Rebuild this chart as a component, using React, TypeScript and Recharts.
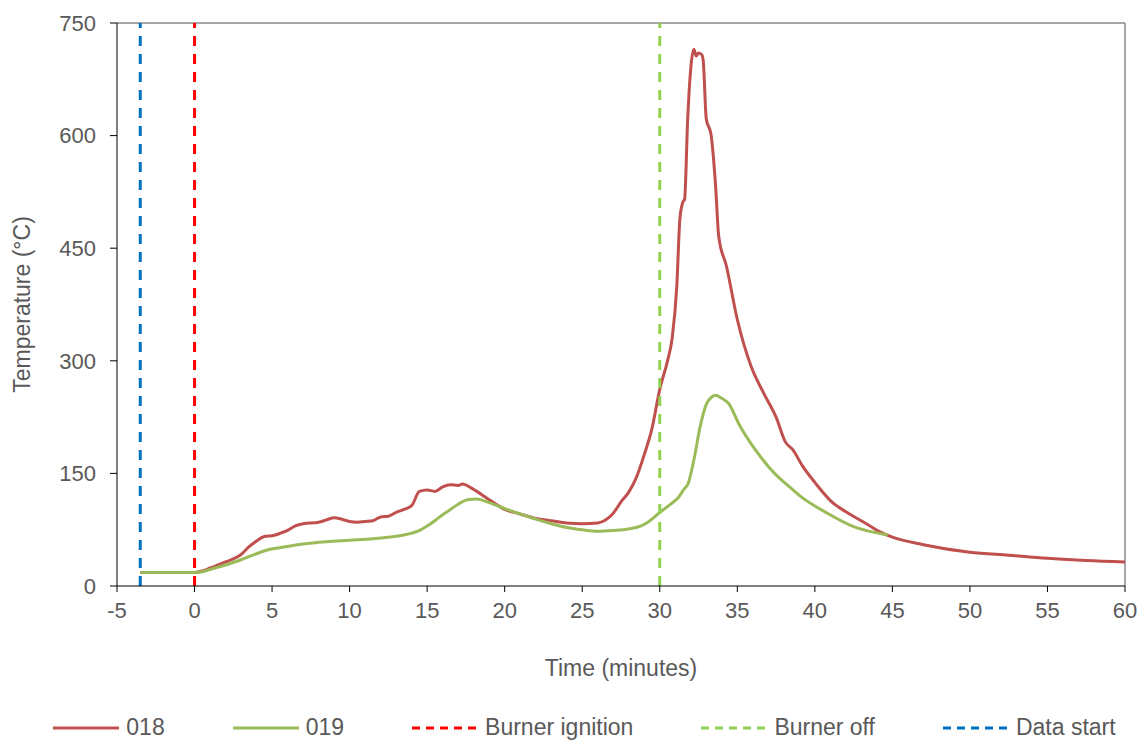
import { LineChart, Line, XAxis, YAxis, ReferenceLine, Label } from "recharts"

const FONT = '"Liberation Sans", Arial, sans-serif'
const TEXT = "#595959"

const xTicks = [-5, 0, 5, 10, 15, 20, 25, 30, 35, 40, 45, 50, 55, 60]
const yTicks = [0, 150, 300, 450, 600, 750]

// sample 018 (minutes, °C)
const t018 = [
  -3.5, 0, 0.5, 1, 2, 3, 3.5, 4, 4.5, 5, 5.5, 6, 6.5, 7, 8, 8.5, 9, 9.5, 10, 10.5, 11, 11.5, 12, 12.5, 13, 13.5, 14,
  14.5, 15, 15.5, 16, 16.5, 17, 17.3, 17.8, 18.5, 19, 20, 21, 22, 23, 24, 25, 26, 26.5, 27, 27.5, 28, 28.5, 29, 29.5,
  30, 30.5, 30.8, 31.1, 31.3, 31.5, 31.6, 31.8, 32.0, 32.2, 32.35, 32.5, 32.7, 32.8, 33.0, 33.3, 33.6, 33.8, 34.3,
  35, 35.9, 36.7, 37.5, 38.1, 38.6, 39.2, 40, 41.2, 42, 43.4, 44.2, 45, 47, 50, 52.5, 55, 57.5, 60,
]
const v018 = [
  18, 18, 20, 24, 32, 42, 52, 60, 66, 67, 70, 74, 80, 83, 85, 88, 91, 89, 86, 85, 86, 87, 92, 93, 98, 102, 107,
  126, 128, 126, 132, 135, 134, 136, 131, 122, 115, 102, 96, 90, 87, 84, 83, 84, 88, 97, 112, 125, 145, 175, 210,
  262, 300, 330, 400, 490, 512, 515, 622, 690, 715, 706, 710, 708, 700, 622, 602, 533, 466, 426,
  355, 292, 257, 225, 192, 181, 160, 138, 110, 99, 82, 72, 65, 55, 45, 41, 37, 34, 32,
]

// sample 019 (minutes, °C)
const t019 = [
  -3.5, 0, 0.5, 1, 2, 3, 4, 4.7, 5.5, 7, 8.5, 10, 11.5, 12.5, 13.5, 14.4, 15, 15.5, 16, 16.5, 17, 17.6, 18.2, 19,
  20, 21, 22, 23, 24, 25, 26, 27, 28, 28.8, 29.3, 30, 30.7, 31.2, 31.6, 31.8, 32.2, 32.6, 33.0, 33.3, 33.6, 34.0,
  34.4, 35.2, 36.5, 37.4, 38.2, 39.1, 40.8, 42.5, 44.7,
]
const v019 = [
  18, 18, 19, 22, 28, 35, 43, 48, 51, 56, 59, 61, 63, 65, 68, 73, 80, 87, 95, 102, 109, 115, 116, 111,
  103, 96, 89, 83, 78, 75, 73, 74, 76, 80, 86, 98, 109, 118, 130, 135, 168, 212, 242, 251, 254, 250,
  244, 212, 172, 150, 135, 119, 97, 79, 68,
]

const dataStart = -3.5
const burnerIgnition = 0
const burnerOff = 30

const data018 = t018.map((t, i) => ({ t, v: v018[i] }))
const data019 = t019.map((t, i) => ({ t, v: v019[i] }))

const legendItems = [
  { name: "018", color: "#C0504D", dash: "" },
  { name: "019", color: "#9BBB59", dash: "" },
  { name: "Burner ignition", color: "#FF0000", dash: "8 6" },
  { name: "Burner off", color: "#92D050", dash: "8 6" },
  { name: "Data start", color: "#0070C0", dash: "8 6" },
]

const tickStyle = { fill: TEXT, fontSize: 22, fontFamily: FONT }

export default function App() {
  return (
    <div style={{ position: "absolute", left: 0, top: 0, width: 1145, height: 743, background: "#fff", fontFamily: FONT }}>
      <LineChart width={1145} height={743} margin={{ top: 23, right: 20, bottom: 0, left: 0 }}>
        <XAxis
          dataKey="t"
          type="number"
          domain={[-5, 60]}
          ticks={xTicks}
          allowDataOverflow
          height={157}
          tick={tickStyle}
          tickSize={6}
          tickMargin={10}
          stroke="#000"
        >
          <Label
            content={(props: any) => {
              const vb = props.viewBox
              return (
                <text x={vb.x + vb.width / 2} y={vb.y + 90} textAnchor="middle" fill={TEXT} fontSize={23} fontFamily={FONT}>
                  Time (minutes)
                </text>
              )
            }}
          />
        </XAxis>
        <YAxis
          type="number"
          domain={[0, 750]}
          ticks={yTicks}
          width={117}
          tick={tickStyle}
          tickSize={7}
          tickMargin={14}
          stroke="#000"
        >
          <Label
            content={(props: any) => {
              const vb = props.viewBox
              const cy = vb.y + vb.height / 2
              return (
                <text x={30} y={cy} transform={`rotate(-90 30 ${cy})`} textAnchor="middle" fill={TEXT} fontSize={23} fontFamily={FONT}>
                  Temperature (°C)
                </text>
              )
            }}
          />
        </YAxis>
        <ReferenceLine y={750} stroke="#888" strokeWidth={1.5} />
        <ReferenceLine x={60} stroke="#888" strokeWidth={1.5} />
        <Line data={data018} dataKey="v" type="monotone" stroke="#C0504D" strokeWidth={3} dot={false} isAnimationActive={false} />
        <Line data={data019} dataKey="v" type="monotone" stroke="#9BBB59" strokeWidth={3} dot={false} isAnimationActive={false} />
        <ReferenceLine x={dataStart} stroke="#0070C0" strokeWidth={3} strokeDasharray="10 8" />
        <ReferenceLine x={burnerIgnition} stroke="#FF0000" strokeWidth={3} strokeDasharray="10 8" />
        <ReferenceLine x={burnerOff} stroke="#92D050" strokeWidth={3} strokeDasharray="10 8" />
      </LineChart>
      <div
        style={{
          position: "absolute",
          left: 12,
          top: 714,
          width: 1145,
          display: "flex",
          justifyContent: "center",
          alignItems: "center",
          fontSize: 23,
          color: TEXT,
        }}
      >
        {legendItems.map((it, i) => (
          <div key={it.name} style={{ display: "flex", alignItems: "center", marginLeft: i === 0 ? 0 : 68 }}>
            <svg width={66} height={6}>
              <line x1={0} y1={3} x2={66} y2={3} stroke={it.color} strokeWidth={3} strokeDasharray={it.dash || undefined} />
            </svg>
            <span style={{ marginLeft: 7 }}>{it.name}</span>
          </div>
        ))}
      </div>
    </div>
  )
}
